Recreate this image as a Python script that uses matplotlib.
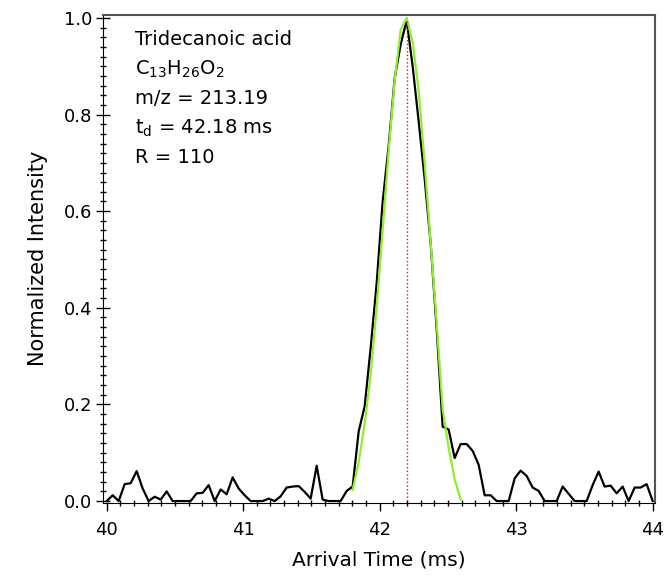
import numpy as np
import matplotlib
matplotlib.use("Agg")
import matplotlib.pyplot as plt
from matplotlib.ticker import MultipleLocator

plt.rcParams['font.family'] = ['DejaVu Sans']
plt.rcParams['mathtext.default'] = 'regular'

# arrival time grid (ms): 92 samples from 40 to 44
t_start = 40.0
t_step = 4.0 / 91
n_pts = 92

# measured arrival time distribution (normalized)
intensity = [
    0.0, 0.012, 0.0, 0.035, 0.037, 0.062, 0.026, 0.0, 0.009, 0.003,
    0.02, 0.0, 0.0, 0.0, 0.0, 0.016, 0.017, 0.033, 0.0, 0.024,
    0.014, 0.049, 0.026, 0.012, 0.0, 0.0, 0.0, 0.005, 0.0, 0.01,
    0.028, 0.03, 0.031, 0.019, 0.005, 0.073, 0.003, 0.0, 0.0, 0.0,
    0.021, 0.03, 0.144, 0.196, 0.317, 0.451, 0.62, 0.735, 0.875, 0.945,
    0.995, 0.9, 0.786, 0.667, 0.533, 0.357, 0.154, 0.148, 0.089, 0.118,
    0.118, 0.104, 0.075, 0.012, 0.012, 0.0, 0.0, 0.0, 0.047, 0.063,
    0.052, 0.028, 0.021, 0.0, 0.0, 0.0, 0.03, 0.015, 0.0, 0.0,
    0.0, 0.033, 0.061, 0.03, 0.032, 0.016, 0.03, 0.0, 0.028, 0.028,
    0.035, 0.0,
]

fit_first = 41
fit_vals = [
    0.023, 0.08, 0.16, 0.26, 0.40, 0.56, 0.725, 0.87, 0.975, 1.0,
    0.95, 0.85, 0.70, 0.535, 0.37, 0.19, 0.11, 0.045, 0.003,
]

td = 42.2  # peak centre marker

info_lines = ["Tridecanoic acid", r"C$_{13}$H$_{26}$O$_2$", "m/z = 213.19",
              r"t$_d$ = 42.18 ms", "R = 110"]

t = t_start + t_step * np.arange(n_pts)
t_fit = t[fit_first:fit_first + len(fit_vals)]

fig = plt.figure(figsize=(6.64, 5.79), dpi=100)
ax = fig.add_axes([0.1551, 0.1321, 0.8313, 0.842])

ax.plot(t, intensity, color='black', lw=1.6, zorder=3)
ax.plot(t_fit, fit_vals, color='#90ee30', lw=1.6, zorder=4)
ax.plot([td, td], [0, 0.995], color='red', lw=1.0, ls=':', zorder=5)

ax.set_xlim(39.973, 44.017)
ax.set_ylim(-0.003, 1.006)

ax.xaxis.set_major_locator(MultipleLocator(1))
ax.xaxis.set_minor_locator(MultipleLocator(0.1))
ax.yaxis.set_major_locator(MultipleLocator(0.2))
ax.yaxis.set_minor_locator(MultipleLocator(0.02))
ax.yaxis.set_major_formatter(matplotlib.ticker.FormatStrFormatter('%.1f'))

ax.tick_params(axis='x', which='major', direction='out', length=5.5, width=1,
               pad=8, labelsize=13)
ax.tick_params(axis='x', which='minor', direction='inout', length=5, width=1)
ax.tick_params(axis='y', which='major', direction='inout', length=9.5, width=1,
               pad=3, labelsize=13)
ax.tick_params(axis='y', which='minor', direction='inout', length=4.5, width=1)

for s in ['top', 'right']:
    ax.spines[s].set_color('#555555')
    ax.spines[s].set_linewidth(1.5)

ax.set_xlabel("Arrival Time (ms)", fontsize=14.5, labelpad=8)
ax.set_ylabel("Normalized Intensity", fontsize=15, labelpad=11)

y0 = 0.943
for i, line in enumerate(info_lines):
    ax.text(40.205, y0 - i * 0.061, line, fontsize=14, va='baseline', ha='left')

fig.savefig("out.png", dpi=100)
